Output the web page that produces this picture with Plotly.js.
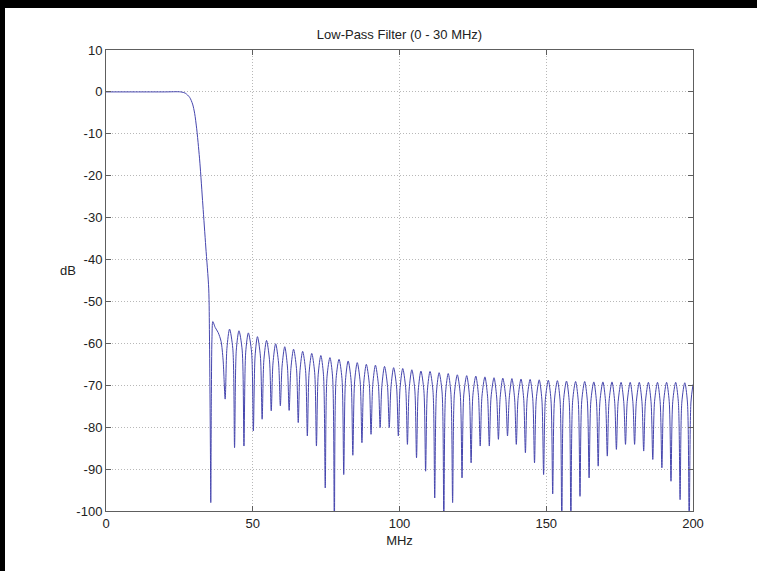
<!DOCTYPE html>
<html>
<head>
<meta charset="utf-8">
<script src="https://cdn.plot.ly/plotly-3.0.1.min.js"></script>
<style>
  html, body { margin: 0; padding: 0; background: #000; width: 757px; height: 571px; overflow: hidden; }
  #chart { position: absolute; left: 5px; top: 8px; width: 752px; height: 563px; background: #fff; }
</style>
</head>
<body>
<div id="chart"></div>
<script>
// Pass band and roll-off (MHz, dB)
var rolloffMHz = [0, 10, 20, 25.5, 27, 28.5, 29.5, 30.2, 30.9, 31.5, 32.0, 33.0, 34.0, 35.0, 35.25, 35.45, 35.6, 35.7];
var rolloffDB  = [0, 0, 0, 0, -0.3, -1.3, -2.9, -5.1, -8.8, -13, -17, -27, -37, -47, -58, -74, -88, -98];

// Stop band side lobes (MHz, dB)
var stopMHz = [
  35.9, 36.1, 36.4, 37.2, 38.2, 39.2, 39.9, 40.6,
  41.2, 42.1, 43.2, 43.8,   44.4, 45.3, 46.4, 47.0,   47.6, 48.5, 49.6, 50.2,
  50.8, 51.6, 52.6, 53.2,   53.8, 54.7, 55.7, 56.3,   56.9, 57.8, 58.8, 59.4,
  60.0, 60.9, 61.8, 62.4,   63.0, 63.9, 64.9, 65.5,   66.1, 67.0, 68.0, 68.6,
  69.2, 70.1, 71.1, 71.7,   72.3, 73.2, 74.1, 74.7,   75.3, 76.3, 77.2, 77.8,
  78.4, 79.4, 80.4, 81.0,   81.6, 82.5, 83.5, 84.1,   84.7, 85.6, 86.6, 87.2,
  87.8, 88.7, 89.7, 90.3,   90.9, 91.8, 92.8, 93.4,   94.0, 94.9, 95.9, 96.5,
  97.1, 98.0, 99.0, 99.6,   100.2, 101.1, 102.1, 102.7, 103.3, 104.2, 105.2, 105.8,
  106.4, 107.3, 108.3, 108.9, 109.5, 110.4, 111.4, 112.0, 112.6, 113.5, 114.5, 115.1,
  115.7, 116.6, 117.5, 118.1, 118.7, 119.7, 120.7, 121.3, 121.9, 122.9, 123.8, 124.4,
  125.0, 126.0, 126.9, 127.5, 128.1, 129.1, 130.0, 130.6, 131.2, 132.2, 133.1, 133.7,
  134.3, 135.2, 136.2, 136.8, 137.4, 138.3, 139.2, 139.8, 140.4, 141.4, 142.3, 142.9,
  143.5, 144.5, 145.4, 146.0, 146.6, 147.6, 148.5, 149.1, 149.7, 150.7, 151.6, 152.2,
  152.8, 153.8, 154.7, 155.3, 155.9, 156.9, 157.8, 158.4, 159.0, 160.0, 160.9, 161.5,
  162.1, 163.1, 164.0, 164.6, 165.2, 166.2, 167.1, 167.7, 168.3, 169.3, 170.2, 170.8,
  171.4, 172.4, 173.3, 173.9, 174.5, 175.5, 176.4, 177.0, 177.6, 178.6, 179.5, 180.1,
  180.7, 181.7, 182.6, 183.2, 183.8, 184.8, 185.7, 186.3, 186.9, 187.9, 188.8, 189.4,
  190.0, 191.0, 191.9, 192.5, 193.1, 194.1, 195.0, 195.6, 196.2, 197.2, 198.1, 198.7,
  199.3, 200.0
];
var stopDB = [
  -72, -59, -54.8, -56.2, -57.4, -59.5, -64, -73.3,
  -61.2, -56.6, -61.2, -84.9,  -61.6, -57.0, -61.6, -84.5,  -62.1, -57.5, -62.1, -80.9,
  -63.0, -58.4, -63.0, -78.1,  -63.9, -59.3, -63.9, -76.1,  -64.7, -60.1, -64.7, -74.9,
  -65.4, -60.8, -65.4, -76.0,  -66.0, -61.4, -66.0, -78.9,  -66.5, -61.9, -66.5, -82.1,
  -67.0, -62.4, -67.0, -84.5,  -67.5, -62.9, -67.5, -94.5,  -68.0, -63.4, -68.0, -104,
  -68.4, -63.8, -68.4, -91.3,  -68.8, -64.2, -68.8, -86.7,  -69.2, -64.6, -69.2, -83.7,
  -69.6, -65.0, -69.6, -81.7,  -69.8, -65.2, -69.8, -80.1,  -70.1, -65.5, -70.1, -80.1,
  -70.4, -65.8, -70.4, -82.1,  -70.6, -66.0, -70.6, -84.1,  -70.9, -66.3, -70.9, -87.3,
  -71.2, -66.6, -71.2, -90.5,  -71.3, -66.7, -71.3, -96.9,  -71.6, -67.0, -71.6, -104,
  -71.8, -67.2, -71.8, -98,    -72.1, -67.5, -72.1, -92.1,  -72.3, -67.7, -72.3, -88.5,
  -72.4, -67.8, -72.4, -84.5,  -72.6, -68.0, -72.6, -84.5,  -72.8, -68.2, -72.8, -82.9,
  -72.9, -68.3, -72.9, -82.1,  -73.0, -68.4, -73.0, -84.1,  -73.1, -68.5, -73.1, -86.1,
  -73.2, -68.6, -73.2, -88.5,  -73.3, -68.7, -73.3, -91.3,  -73.4, -68.8, -73.4, -95.9,
  -73.5, -68.9, -73.5, -104,   -73.6, -69.0, -73.6, -104,   -73.7, -69.1, -73.7, -96.5,
  -73.7, -69.1, -73.7, -92.1,  -73.8, -69.2, -73.8, -89.3,  -73.8, -69.2, -73.8, -86.9,
  -73.8, -69.2, -73.8, -85.3,  -73.9, -69.3, -73.9, -84.1,  -73.9, -69.3, -73.9, -84.1,
  -73.9, -69.3, -73.9, -85.7,  -73.9, -69.3, -73.9, -87.7,  -73.9, -69.3, -73.9, -89.7,
  -73.9, -69.3, -73.9, -92.9,  -73.9, -69.3, -73.9, -97.3,  -74.0, -69.4, -74.0, -104,
  -74.0, -69.8
];

var xTicks = [0, 50, 100, 150, 200];
var yTicks = [10, 0, -10, -20, -30, -40, -50, -60, -70, -80, -90, -100];

var titleText = 'Low-Pass Filter (0 - 30 MHz)';
var xLabel = 'MHz';
var yLabel = 'dB';

var freq = rolloffMHz.concat(stopMHz);
var gain = rolloffDB.concat(stopDB);

var font = 'Liberation Sans, Arial, Helvetica, sans-serif';
var axisCommon = {
  showline: true, linecolor: '#5e5e5e', linewidth: 1, mirror: 'ticks',
  ticks: 'inside', ticklen: 5, tickcolor: '#5e5e5e', tickwidth: 1,
  showgrid: true, gridcolor: '#b8b8b8', gridwidth: 1, griddash: '1px,2px',
  zeroline: false,
  tickfont: { family: font, size: 13, color: '#222' },
  tickmode: 'array'
};

var data = [{
  type: 'scatter', mode: 'lines',
  x: freq, y: gain,
  line: { color: '#4646ae', width: 1, shape: 'spline', smoothing: 0.8 },
  hoverinfo: 'skip', showlegend: false
}];

var layout = {
  width: 752, height: 563,
  margin: { l: 101, r: 64, t: 42, b: 60, pad: 0 },
  paper_bgcolor: '#ffffff', plot_bgcolor: '#ffffff',
  showlegend: false,
  title: { text: titleText, font: { family: font, size: 13, color: '#222' },
           x: 0.5, xref: 'paper', xanchor: 'center', y: 1, yref: 'paper', yanchor: 'bottom', pad: { b: 11 } },
  xaxis: Object.assign({}, axisCommon, {
    range: [0, 200], tickvals: xTicks, ticktext: xTicks.map(String),
    title: { text: xLabel, font: { family: font, size: 13, color: '#222' }, standoff: 6 }
  }),
  yaxis: Object.assign({}, axisCommon, {
    range: [-100, 10], tickvals: yTicks, ticktext: yTicks.map(String)
  }),
  annotations: [{
    text: yLabel, xref: 'paper', yref: 'y', x: -0.065, y: -42.5,
    xanchor: 'center', yanchor: 'middle', showarrow: false,
    font: { family: font, size: 13, color: '#222' }
  }]
};

Plotly.newPlot('chart', data, layout, { displayModeBar: false, staticPlot: true });
</script>
</body>
</html>
